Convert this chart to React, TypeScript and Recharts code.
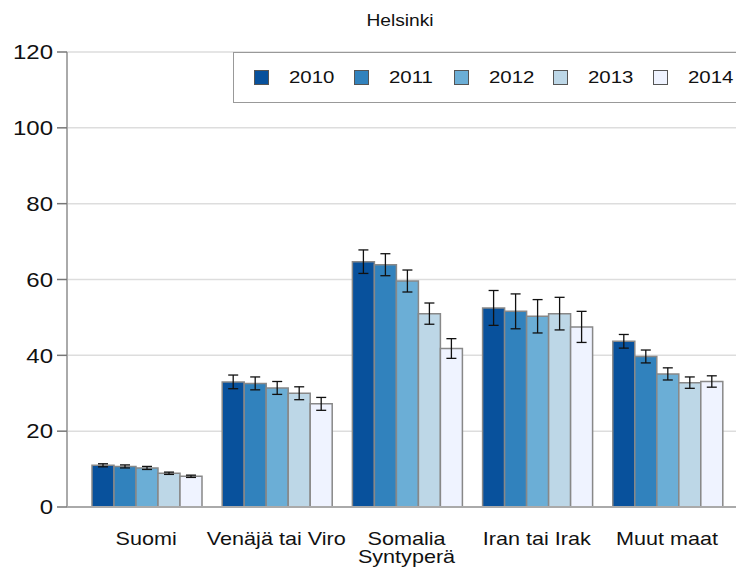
import React from 'react';
import { BarChart, Bar, XAxis, YAxis, CartesianGrid, ErrorBar, Legend } from 'recharts';

const categories = ['Suomi', 'Venäjä tai Viro', 'Somalia', 'Iran tai Irak', 'Muut maat'];
const years = ['2010', '2011', '2012', '2013', '2014'];
const colors = ['#08519c', '#3182bd', '#6baed6', '#bdd7e7', '#eff3ff'];
const yTicks = [0, 20, 40, 60, 80, 100, 120];

const values2010 = [11.0, 33.0, 64.7, 52.5, 43.7];
const values2011 = [10.7, 32.6, 63.9, 51.6, 39.7];
const values2012 = [10.3, 31.4, 59.6, 50.3, 35.1];
const values2013 = [8.9, 30.0, 51.0, 51.0, 32.8];
const values2014 = [8.1, 27.2, 41.8, 47.5, 33.1];

const errors2010 = [0.4, 1.8, 3.1, 4.6, 1.8];
const errors2011 = [0.4, 1.7, 2.9, 4.6, 1.7];
const errors2012 = [0.4, 1.7, 2.9, 4.4, 1.6];
const errors2013 = [0.3, 1.7, 2.8, 4.3, 1.5];
const errors2014 = [0.3, 1.7, 2.6, 4.1, 1.5];

const series = [values2010, values2011, values2012, values2013, values2014];
const errs = [errors2010, errors2011, errors2012, errors2013, errors2014];

const data = categories.map((name, i) => {
  const row: Record<string, string | number> = { name };
  years.forEach((y, j) => {
    row['v' + y] = series[j][i];
    row['e' + y] = errs[j][i];
  });
  return row;
});

const font = '"Liberation Sans", Arial, sans-serif';
// the source picture is stretched sideways a bit, so text is widened to match
const STRETCH = 1.2;

const XTick = ({ x, y, payload }: any) => (
  <g transform={`translate(${x},${y})`}>
    <text x={0} y={38} textAnchor="middle" transform={`scale(${STRETCH},1)`} fill="#111" fontSize={18} fontFamily={font}>
      {payload.value}
    </text>
  </g>
);

const YTick = ({ x, y, payload }: any) => (
  <g transform={`translate(${x},${y})`}>
    <text x={0} y={0} dy="0.36em" textAnchor="end" transform={`scale(${STRETCH},1)`} fill="#111" fontSize={20} fontFamily={font}>
      {payload.value}
    </text>
  </g>
);

const AxisTitle = ({ viewBox }: any) => {
  const vb = viewBox || { x: 67, y: 507, width: 679 };
  return (
    <g transform={`translate(${vb.x + vb.width / 2},${vb.y + 56})`}>
      <text x={0} y={0} textAnchor="middle" transform={`scale(${STRETCH},1)`} fill="#111" fontSize={18} fontFamily={font}>
        Syntyperä
      </text>
    </g>
  );
};

const LegendBox = () => (
  <div
    style={{
      width: 520,
      height: 51,
      border: '1px solid #999',
      borderRight: 'none',
      background: '#fff',
      display: 'flex',
      alignItems: 'center',
      paddingLeft: 20,
      boxSizing: 'border-box',
      fontFamily: font,
      fontSize: 17,
      color: '#111',
    }}
  >
    {years.map((y, i) => (
      <div key={y} style={{ display: 'flex', alignItems: 'center', width: 100.6 }}>
        <span
          style={{
            width: 13,
            height: 13,
            background: colors[i],
            border: '1px solid #555',
            marginRight: 20,
          }}
        />
        <span style={{ display: 'inline-block', transform: `scaleX(${STRETCH})`, transformOrigin: 'left center' }}>{y}</span>
      </div>
    ))}
  </div>
);

export default function App() {
  return (
    <div style={{ position: 'absolute', left: 0, top: 0, width: 736, height: 569, overflow: 'hidden', background: '#fff' }}>
      <div style={{ position: 'absolute', top: 12, left: 0, width: 800, textAlign: 'center', fontFamily: font, fontSize: 16, color: '#111' }}>
        <span style={{ display: 'inline-block', transform: `scaleX(${STRETCH})` }}>Helsinki</span>
      </div>
      <BarChart
        width={760}
        height={569}
        data={data}
        margin={{ top: 52, right: 14, bottom: 0, left: 7 }}
        barCategoryGap={11}
        barGap={0}
      >
        <CartesianGrid vertical={false} stroke="#ddd" strokeWidth={1.5} />
        <XAxis
          dataKey="name"
          height={62}
          padding={{ left: 14, right: 14 }}
          tickLine={false}
          tickSize={0}
          tickMargin={0}
          axisLine={{ stroke: '#aaa', strokeWidth: 2 }}
          tick={<XTick />}
          label={<AxisTitle />}
        />
        <YAxis
          width={60}
          domain={[0, 120]}
          ticks={yTicks}
          interval={0}
          tickSize={10}
          tickMargin={4}
          axisLine={{ stroke: '#aaa', strokeWidth: 2 }}
          tickLine={{ stroke: '#777', strokeWidth: 1.5 }}
          tick={<YTick />}
        />
        <Legend
          layout="horizontal"
          verticalAlign="middle"
          align="center"
          wrapperStyle={{ top: 52, left: 233, width: 520 }}
          content={() => <LegendBox />}
        />
        {years.map((y, i) => (
          <Bar
            key={y}
            dataKey={'v' + y}
            name={y}
            fill={colors[i]}
            stroke="#888"
            strokeWidth={1.5}
            isAnimationActive={false}
          >
            <ErrorBar dataKey={'e' + y} width={5} stroke="#111" strokeWidth={1.3} />
          </Bar>
        ))}
      </BarChart>
    </div>
  );
}
